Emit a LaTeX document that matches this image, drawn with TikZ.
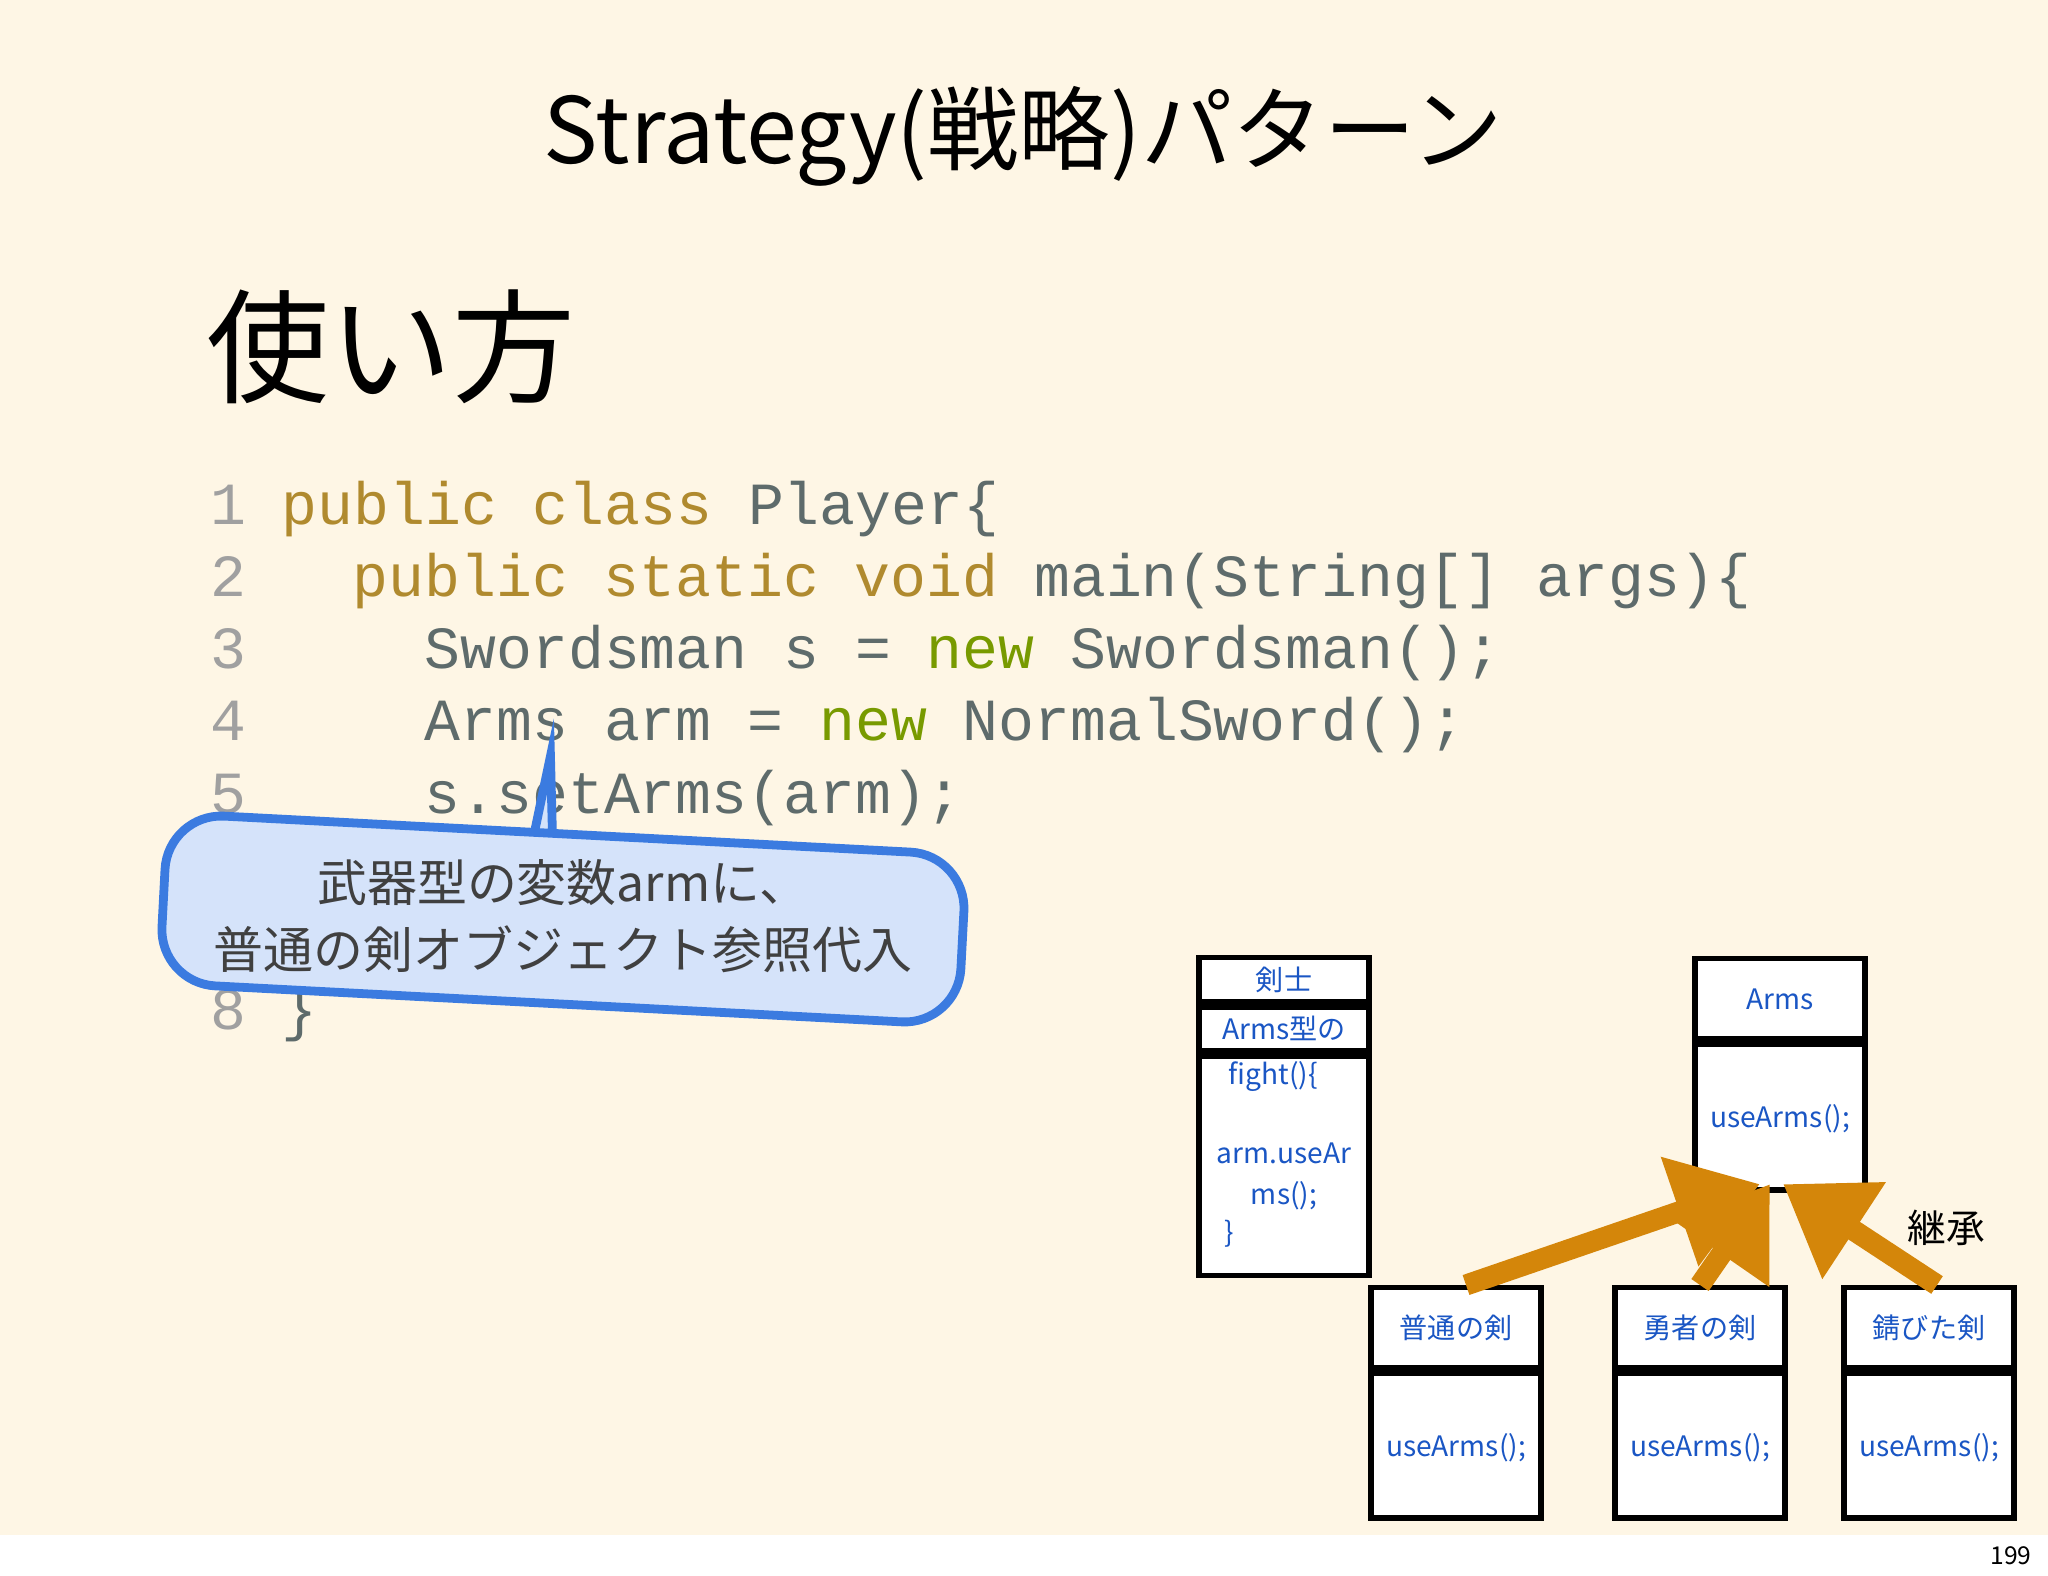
\documentclass[tikz,border=0pt]{standalone}
\usepackage{fontspec}
\setmainfont{Noto Sans CJK JP}
\setmonofont{Liberation Mono}
\usepackage{xcolor}
\usetikzlibrary{arrows.meta}
\usetikzlibrary{positioning}

\definecolor{paper}{HTML}{FEF6E5}
\definecolor{codegray}{HTML}{5E6B6B}
\definecolor{keyword}{HTML}{B08A2E}
\definecolor{newgreen}{HTML}{789A00}
\definecolor{linenum}{HTML}{A0A0A0}
\definecolor{umlblue}{HTML}{1A56C4}
\definecolor{inherit}{HTML}{D4860A}
\definecolor{calloutfill}{HTML}{D5E3FA}
\definecolor{calloutline}{HTML}{3B7BE0}

\newcommand{\kw}[1]{\textcolor{keyword}{#1}}
\newcommand{\nw}[1]{\textcolor{newgreen}{#1}}

\begin{document}
\begin{tikzpicture}
        [x=0.01cm, y=-0.01cm,
        code/.style={anchor=west,inner sep=0,text=codegray,font=\ttfamily\fontsize{17}{17}\selectfont},
        num/.style={anchor=west,inner sep=0,text=linenum,font=\ttfamily\fontsize{17}{17}\selectfont},
        umlhead/.style={rectangle,draw=black,line width=1.5pt,fill=white,minimum width=1.7cm,inner sep=0,text=umlblue,font=\fontsize{8}{8}\selectfont},
        umlbody/.style={umlhead,anchor=north},
        umltext/.style={inner sep=0,text=umlblue,font=\fontsize{8}{8}\selectfont},
        inherits/.style={-{Triangle[width=1.1cm,length=0.85cm]},line width=0.21cm,draw=inherit},
        text height=1.5ex, text depth=.4ex]

% page
\fill[paper] (0,0) rectangle (2048,1535);
\fill[white] (0,1535) rectangle (2048,1576);
\useasboundingbox (0,0) rectangle (2048,1576);
\node[inner sep=0] (page) at (2011,1554) {\fontsize{7}{7}\selectfont 199};

% titles
\node[inner sep=0] (title) at (1023,153) {\fontsize{26}{26}\selectfont Strategy(戦略)パターン};
\node[inner sep=0,anchor=west] (usage) at (206,383) {\fontsize{35}{35}\selectfont 使い方};

% code
\node[num] (n1) at (210,514) {1};
\node[num] (n2) at (210,586) {2};
\node[num] (n3) at (210,658) {3};
\node[num] (n4) at (210,730) {4};
\node[num] (n5) at (210,803) {5};
\node[num] (n8) at (210,1019) {8};

\node[code] (c1) at (281,514) {\kw{public class} Player\{};
\node[code] (c2) at (352,586) {\kw{public static void} main(String[] args)\{};
\node[code] (c3) at (424,658) {Swordsman s = \nw{new} Swordsman();};
\node[code] (c4) at (424,730) {Arms arm = \nw{new} NormalSword();};
\node[code] (c5) at (424,803) {s.setArms(arm);};
\node[code] (c8) at (281,1019) {\}};

% callout
\begin{scope}[rotate around={-3:(563,918)}]
\draw[calloutline,fill=calloutfill,line width=2.5pt,rounded corners=16]
  (163,834) -- (520,834) [sharp corners]-- (530,834) -- (542,757) -- (548,834) [rounded corners=16]
  -- (963,834) -- (963,1004) -- (163,1004) -- cycle;
\node[inner sep=0,align=center,text height=,text depth=,text=black!75,font=\fontsize{14.2}{19}\selectfont] (note) at (563,916)
  {武器型の変数armに、\\普通の剣オブジェクト参照代入};
\end{scope}

% uml boxes
\node[umlhead,anchor=north,minimum height=0.44cm] (kenshi) at (1284,955) {剣士};
\node[umlbody,minimum height=0.44cm] (kenshitype) at (kenshi.south) {Arms型の};
\node[umlbody,minimum height=2.19cm] (kenshibody) at (kenshitype.south) {};
\node[umltext,anchor=west] (fight) at (1228,1074) {fight()\{};
\node[umltext] (usear) at (1284,1153) {arm.useAr};
\node[umltext] (usems) at (1284,1194) {ms();};
\node[umltext,anchor=west] (close) at (1224,1232) {\}};

\node[umlhead,anchor=north,minimum height=0.8cm] (arms) at (1780,956) {Arms};
\node[umlbody,minimum height=1.46cm] (armsbody) at (arms.south) {useArms();};

\node[umlhead,anchor=north,minimum height=0.8cm] (normal) at (1456,1285) {普通の剣};
\node[umlbody,minimum height=1.45cm] (normalbody) at (normal.south) {useArms();};
\node[umlhead,anchor=north,minimum height=0.8cm] (hero) at (1700,1285) {勇者の剣};
\node[umlbody,minimum height=1.45cm] (herobody) at (hero.south) {useArms();};
\node[umlhead,anchor=north,minimum height=0.8cm] (rusty) at (1929,1285) {錆びた剣};
\node[umlbody,minimum height=1.45cm] (rustybody) at (rusty.south) {useArms();};

% inheritance arrows
\coordinate (tip1) at (1760,1184);
\coordinate (tip2) at (1770,1184);
\coordinate (tip3) at (1783,1184);
\draw[inherits] ([xshift=0.1cm]normal.north) -- (tip1);
\draw[inherits] (hero.north) -- (tip2);
\draw[inherits] ([xshift=0.08cm]rusty.north) -- (tip3);
\node[inner sep=0,font=\fontsize{11}{11}\selectfont] (inheritlabel) at (1946,1232) {継承};

\end{tikzpicture}
\end{document}
